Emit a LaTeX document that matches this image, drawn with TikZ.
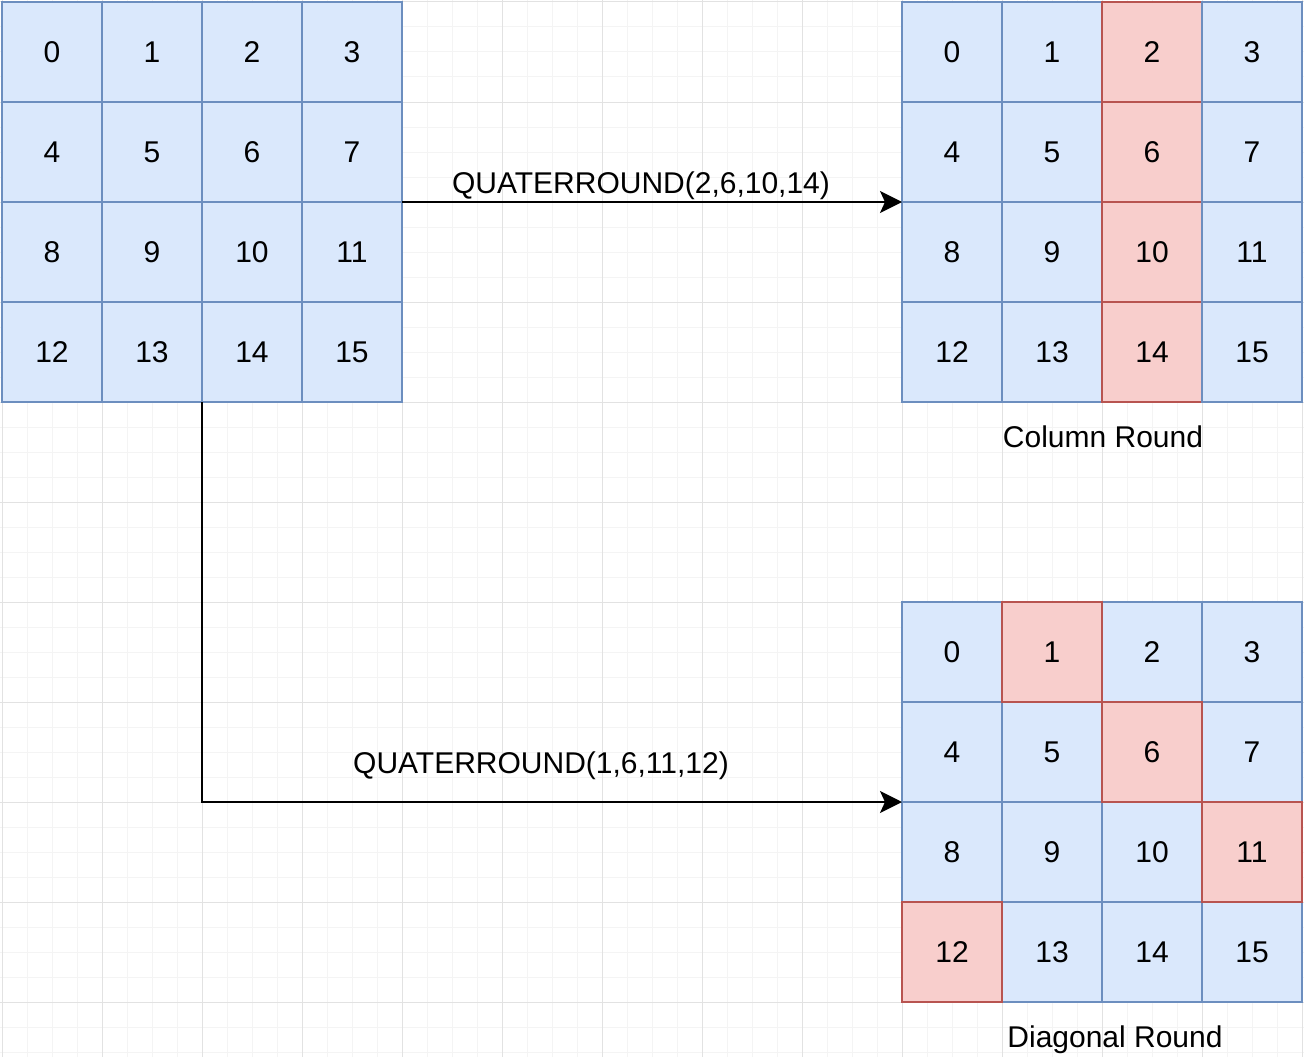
\documentclass[tikz,border=0pt]{standalone}
\usepackage{fontspec}
\setmainfont{Liberation Sans}
\usetikzlibrary{arrows.meta}
\definecolor{blueF}{HTML}{DAE8FC}
\definecolor{blueS}{HTML}{6C8EBF}
\definecolor{redF}{HTML}{F8CECC}
\definecolor{redS}{HTML}{B85450}
\definecolor{gridMaj}{HTML}{E2E2E2}
\definecolor{gridMin}{HTML}{F4F4F4}
\tikzset{
  cellbox/.style={draw=blueS, fill=blueF, line width=2pt, minimum size=100pt, inner sep=0pt, outer sep=0pt, font=\fontsize{30}{36}\selectfont},
  hotcell/.style={cellbox, draw=redS, fill=redF},
  lbl/.style={font=\fontsize{30}{36}\selectfont, inner sep=0pt},
  conn/.style={line width=2pt, -{Stealth[length=22pt, width=22pt, inset=5pt]}},
}
\begin{document}
\begin{tikzpicture}[x=1pt, y=-1pt]
\useasboundingbox (0,0) rectangle (1304,1057);
\fill[white] (0,0) rectangle (1304,1057);
% background grid
\foreach \v in {27,52,77,127,152,177,227,252,277,327,352,377,427,452,477,527,552,577,627,652,677,727,752,777,827,852,877,927,952,977,1027,1052,1077,1127,1152,1177,1227,1252,1277}{
  \draw[gridMin, line width=1pt] (\v,0) -- (\v,1057);
  \draw[gridMin, line width=1pt] (0,\v) -- (1304,\v);
}
\foreach \v in {2,102,...,1302}{
  \draw[gridMaj, line width=1pt] (\v,0) -- (\v,1057);
  \draw[gridMaj, line width=1pt] (0,\v) -- (1304,\v);
}
% left matrix
\foreach \i in {0,...,15}{
  \pgfmathtruncatemacro{\c}{mod(\i,4)}
  \pgfmathtruncatemacro{\r}{div(\i,4)}
  \node[cellbox] (L\i) at (52+100*\c, 52+100*\r) {\i};
}
% column round matrix
\foreach \i in {0,...,15}{
  \pgfmathtruncatemacro{\c}{mod(\i,4)}
  \pgfmathtruncatemacro{\r}{div(\i,4)}
  \ifnum\c=2
    \node[hotcell] (C\i) at (952+100*\c, 52+100*\r) {\i};
  \else
    \node[cellbox] (C\i) at (952+100*\c, 52+100*\r) {\i};
  \fi
}
% diagonal round matrix
\foreach \i in {0,...,15}{
  \pgfmathtruncatemacro{\c}{mod(\i,4)}
  \pgfmathtruncatemacro{\r}{div(\i,4)}
  \pgfmathtruncatemacro{\hot}{(\i==1)||(\i==6)||(\i==11)||(\i==12)}
  \ifnum\hot=0
    \node[cellbox] (D\i) at (952+100*\c, 652+100*\r) {\i};
  \fi
}
\foreach \i in {1,6,11,12}{
  \pgfmathtruncatemacro{\c}{mod(\i,4)}
  \pgfmathtruncatemacro{\r}{div(\i,4)}
  \node[hotcell] (D\i) at (952+100*\c, 652+100*\r) {\i};
}
% connectors
\draw[conn] (L7.south east) -- (C8.north west);
\draw[conn] (L14.south west) |- (D8.north west);
% labels
\node[lbl, anchor=base] (t1) at (641,193) {QUATERROUND(2,6,10,14)};
\node[lbl, anchor=base] (t2) at (541,773) {QUATERROUND(1,6,11,12)};
\node[lbl, anchor=base] (t3) at (1103,447) {Column Round};
\node[lbl, anchor=base] (t4) at (1115,1047) {Diagonal Round};
\end{tikzpicture}
\end{document}
